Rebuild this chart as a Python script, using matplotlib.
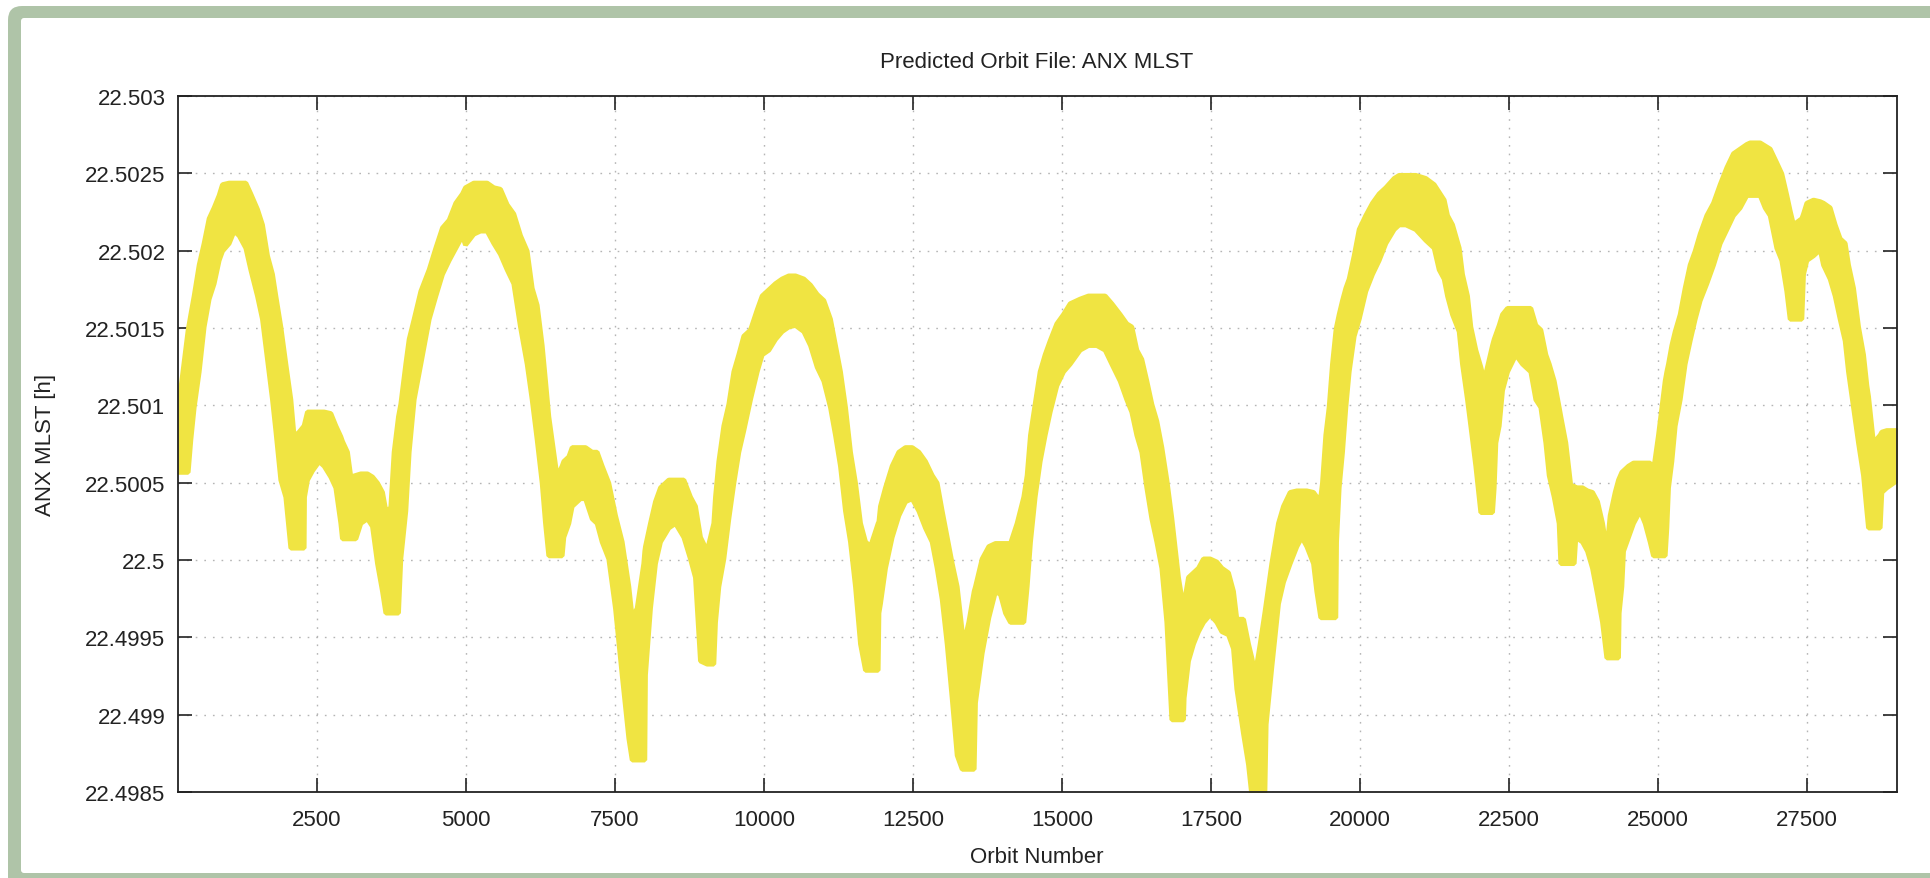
import matplotlib.pyplot as plt
from matplotlib.patches import FancyBboxPatch
from matplotlib.transforms import IdentityTransform

plt.rcParams['font.family'] = ['Liberation Sans', 'DejaVu Sans']

# orbit number and the upper / lower envelope of ANX MLST [h] at that orbit
orbit = [
    168, 330, 375, 431, 515, 598, 682, 766, 850, 906, 1018, 1102, 1186, 1298, 1381,
    1493, 1577, 1661, 1745, 1801, 1885, 1969, 2053, 2108, 2192, 2276, 2282, 2332,
    2416, 2528, 2612, 2724, 2808, 2892, 2919, 3003, 3059, 3143, 3227, 3339, 3423,
    3507, 3591, 3647, 3730, 3786, 3859, 3898, 3982, 4038, 4122, 4234, 4374, 4486,
    4597, 4709, 4821, 4933,
    4983, 5123, 5235, 5347, 5459, 5570, 5682, 5794, 5906, 6018, 6102, 6186, 6270,
    6326, 6381, 6521, 6605, 6633, 6717, 6773, 6913, 6997, 7109, 7192, 7276, 7388,
    7500, 7612, 7724, 7780, 7864, 7975, 7992, 8003, 8087, 8171, 8255, 8395, 8507,
    8647, 8758, 8842, 8926, 9038, 9150, 9178, 9234, 9318, 9402, 9486, 9569, 9653,
    9765, 9877, 9961, 10073, 10185, 10296, 10408, 10520, 10660, 10772, 10884, 10996,
    11107, 11191, 11275, 11359, 11443, 11527, 11611, 11695, 11779, 11907, 11920,
    11946, 12030, 12142, 12254, 12366, 12478, 12590, 12701, 12813, 12897, 12981,
    13065, 13149, 13233, 13317, 13345, 13428, 13518, 13540, 13652, 13764, 13876,
    13960, 14044, 14128, 14239, 14351, 14407, 14463,
    14541, 14625, 14709, 14793, 14905, 15017, 15129, 15296, 15436, 15576, 15716,
    15828, 15968, 16079, 16163, 16247, 16331, 16415, 16499, 16583, 16667, 16751,
    16835, 16946, 17030, 17041, 17114, 17198, 17282, 17366, 17478, 17590, 17674,
    17785, 17869, 17925, 18037, 18121, 18177, 18233, 18317, 18395, 18417, 18512,
    18624, 18708, 18820, 18932, 19016, 19100, 19212, 19267,
    19334, 19362, 19418, 19474, 19530, 19586, 19598, 19642, 19698, 19754, 19810,
    19894, 19978, 20089, 20201, 20313, 20425, 20565, 20649, 20761, 20928, 21096,
    21236, 21320, 21404, 21460, 21544, 21656, 21711, 21795, 21851, 21935, 22019,
    22075, 22215, 22243, 22271, 22327, 22383, 22467, 22606, 22718, 22858, 22942,
    23026, 23110, 23166, 23250, 23333, 23361, 23445, 23529, 23585, 23613, 23725,
    23809, 23893, 23977, 24061,
    24133, 24189, 24273, 24329, 24340, 24385, 24413, 24497, 24581, 24692, 24776,
    24860, 24916, 25000, 25112, 25140, 25168, 25224, 25280, 25364, 25447, 25531,
    25615, 25699, 25811, 25923, 26035, 26147, 26258, 26370, 26482, 26538, 26706,
    26790, 26874, 26985, 27069, 27153, 27209, 27265, 27405, 27433, 27489, 27601,
    27713, 27769, 27880, 27964, 28048, 28132, 28188, 28272, 28356, 28440, 28496,
    28524, 28607, 28719, 28747, 28831, 28943, 29010,
]

mlst_hi = [
    22.50099, 22.50149, 22.50159, 22.50171, 22.50191, 22.50205, 22.50221, 22.50228,
    22.50236, 22.50243, 22.50244, 22.50244, 22.50244, 22.50244, 22.50237, 22.50227,
    22.50217, 22.50197, 22.50185, 22.50171, 22.50151, 22.50127, 22.50104, 22.50080,
    22.50083, 22.50087, 22.50088, 22.50096, 22.50096, 22.50096, 22.50096, 22.50095,
    22.50087, 22.50080, 22.50077, 22.50070, 22.50054, 22.50055, 22.50056, 22.50056,
    22.50054, 22.50050, 22.50044, 22.50032, 22.50034, 22.50070, 22.50093, 22.50101,
    22.50127, 22.50143, 22.50156, 22.50174, 22.50188, 22.50202, 22.50215, 22.50220,
    22.50231, 22.50237,
    22.50241, 22.50244, 22.50244, 22.50244, 22.50241, 22.50240, 22.50230, 22.50224,
    22.50210, 22.50200, 22.50176, 22.50165, 22.50139, 22.50116, 22.50093, 22.50054,
    22.50061, 22.50064, 22.50067, 22.50073, 22.50073, 22.50073, 22.50070, 22.50070,
    22.50061, 22.50050, 22.50029, 22.50012, 22.49983, 22.49963, 22.49969, 22.49998,
    22.50006, 22.50009, 22.50024, 22.50038, 22.50047, 22.50052, 22.50052, 22.50052,
    22.50041, 22.50035, 22.50015, 22.50006, 22.50024, 22.50041, 22.50064, 22.50087,
    22.50101, 22.50122, 22.50133, 22.50145,
    22.50149, 22.50162, 22.50171, 22.50175, 22.50179, 22.50182, 22.50184, 22.50184,
    22.50182, 22.50178, 22.50172, 22.50168, 22.50156, 22.50139, 22.50122, 22.50099,
    22.50070, 22.50050, 22.50024, 22.50012, 22.50009, 22.50024, 22.50025, 22.50035,
    22.50047, 22.50061, 22.50070, 22.50073, 22.50073, 22.50070, 22.50064, 22.50055,
    22.50050, 22.50032, 22.50015, 22.49998, 22.49983, 22.49954, 22.49946, 22.49960,
    22.49980, 22.49983, 22.50001, 22.50009, 22.50011, 22.50011, 22.50011, 22.50011,
    22.50024, 22.50041, 22.50055, 22.50081,
    22.50101, 22.50122, 22.50133, 22.50142, 22.50153, 22.50159, 22.50166, 22.50169,
    22.50171, 22.50171, 22.50171, 22.50166, 22.50159, 22.50153, 22.50151, 22.50136,
    22.50130, 22.50116, 22.50101, 22.50090, 22.50073, 22.50052, 22.50027, 22.49989,
    22.49969, 22.49972, 22.49989, 22.49992, 22.49995, 22.50001, 22.50001, 22.49999,
    22.49995, 22.49992, 22.49980, 22.49962, 22.49962, 22.49946, 22.49937, 22.49926,
    22.49946, 22.49966, 22.49972, 22.49998, 22.50024, 22.50035, 22.50044, 22.50045,
    22.50045, 22.50045, 22.50044, 22.50041,
    22.50041, 22.50050, 22.50081, 22.50099, 22.50127, 22.50148, 22.50151, 22.50159,
    22.50168, 22.50176, 22.50182, 22.50197, 22.50214, 22.50223, 22.50231, 22.50237,
    22.50241, 22.50247, 22.50249, 22.50249, 22.50249, 22.50247, 22.50243, 22.50238,
    22.50233, 22.50223, 22.50217, 22.50202, 22.50185, 22.50171, 22.50151, 22.50136,
    22.50125, 22.50116, 22.50139, 22.50143, 22.50146, 22.50152, 22.50159, 22.50163,
    22.50163, 22.50163, 22.50163, 22.50152, 22.50149, 22.50133, 22.50127, 22.50116,
    22.50099, 22.50093, 22.50076, 22.50048, 22.50048, 22.50047, 22.50047, 22.50045,
    22.50044, 22.50038, 22.50024,
    22.50006, 22.50029, 22.50044, 22.50052, 22.50053, 22.50057, 22.50058, 22.50061,
    22.50063, 22.50063, 22.50063, 22.50063, 22.50058, 22.50081, 22.50116, 22.50122,
    22.50127, 22.50139, 22.50148, 22.50159, 22.50176, 22.50191, 22.50200, 22.50211,
    22.50223, 22.50231, 22.50243, 22.50254, 22.50263, 22.50266, 22.50269, 22.50270,
    22.50270, 22.50268, 22.50266, 22.50257, 22.50250, 22.50236, 22.50226, 22.50217,
    22.50221, 22.50224, 22.50231, 22.50233, 22.50232, 22.50231, 22.50228, 22.50217,
    22.50208, 22.50205, 22.50191, 22.50176, 22.50151, 22.50133, 22.50113, 22.50106,
    22.50076, 22.50081, 22.50083, 22.50084, 22.50084, 22.50084,
]

mlst_lo = [
    22.50057, 22.50057, 22.50078, 22.50099, 22.50122, 22.50151, 22.50169, 22.50179,
    22.50194, 22.50200, 22.50205, 22.50213, 22.50210, 22.50202, 22.50188, 22.50171,
    22.50156, 22.50130, 22.50104, 22.50084, 22.50052, 22.50041, 22.50008, 22.50008,
    22.50008, 22.50008, 22.50041, 22.50052, 22.50058, 22.50064, 22.50061, 22.50054,
    22.50047, 22.50024, 22.50014, 22.50014, 22.50014, 22.50014, 22.50024, 22.50027,
    22.50022, 22.49998, 22.49980, 22.49966, 22.49966, 22.49966, 22.49966, 22.50001,
    22.50032, 22.50070, 22.50104, 22.50127, 22.50156, 22.50171, 22.50185, 22.50194,
    22.50202, 22.50210,
    22.50204, 22.50211, 22.50213, 22.50213, 22.50205, 22.50198, 22.50188, 22.50179,
    22.50151, 22.50127, 22.50104, 22.50078, 22.50050, 22.50024, 22.50003, 22.50003,
    22.50003, 22.50015, 22.50024, 22.50035, 22.50040, 22.50040, 22.50027, 22.50024,
    22.50012, 22.50001, 22.49969, 22.49926, 22.49885, 22.49871, 22.49871, 22.49871,
    22.49871, 22.49926, 22.49969, 22.49998, 22.50012, 22.50021, 22.50024, 22.50015,
    22.50001, 22.49989, 22.49935, 22.49933, 22.49933, 22.49960, 22.49983, 22.50001,
    22.50027, 22.50050, 22.50070, 22.50084,
    22.50104, 22.50122, 22.50133, 22.50136, 22.50143, 22.50148, 22.50151, 22.50152,
    22.50148, 22.50139, 22.50125, 22.50116, 22.50099, 22.50081, 22.50061, 22.50032,
    22.50012, 22.49983, 22.49946, 22.49929, 22.49929, 22.49929, 22.49966, 22.49972,
    22.49995, 22.50015, 22.50029, 22.50038, 22.50040, 22.50032, 22.50021, 22.50012,
    22.49995, 22.49975, 22.49946, 22.49911, 22.49874, 22.49865, 22.49865, 22.49865,
    22.49865, 22.49908, 22.49940, 22.49963, 22.49980, 22.49978, 22.49966, 22.49960,
    22.49960, 22.49960, 22.49983, 22.50012,
    22.50041, 22.50064, 22.50081, 22.50096, 22.50113, 22.50122, 22.50127, 22.50136,
    22.50139, 22.50139, 22.50136, 22.50127, 22.50116, 22.50104, 22.50096, 22.50081,
    22.50070, 22.50047, 22.50027, 22.50012, 22.49995, 22.49960, 22.49897, 22.49897,
    22.49897, 22.49911, 22.49935, 22.49946, 22.49954, 22.49960, 22.49965, 22.49960,
    22.49954, 22.49952, 22.49943, 22.49917, 22.49888, 22.49868, 22.49848, 22.49848,
    22.49848, 22.49848, 22.49894, 22.49931, 22.49972, 22.49986, 22.49998, 22.50009,
    22.50015, 22.50009, 22.49998, 22.49980,
    22.49963, 22.49963, 22.49963, 22.49963, 22.49963, 22.49963, 22.50012, 22.50047,
    22.50070, 22.50099, 22.50122, 22.50145, 22.50156, 22.50174, 22.50185, 22.50194,
    22.50205, 22.50214, 22.50217, 22.50217, 22.50214, 22.50207, 22.50202, 22.50188,
    22.50182, 22.50171, 22.50159, 22.50148, 22.50127, 22.50104, 22.50087, 22.50061,
    22.50031, 22.50031, 22.50031, 22.50047, 22.50076, 22.50087, 22.50110, 22.50122,
    22.50133, 22.50127, 22.50122, 22.50104, 22.50099, 22.50076, 22.50055, 22.50041,
    22.50024, 22.49998, 22.49998, 22.49998, 22.49998, 22.50015, 22.50012, 22.50006,
    22.49995, 22.49978, 22.49960,
    22.49937, 22.49937, 22.49937, 22.49937, 22.49966, 22.49983, 22.50006, 22.50015,
    22.50024, 22.50032, 22.50024, 22.50012, 22.50003, 22.50003, 22.50003, 22.50021,
    22.50047, 22.50064, 22.50087, 22.50104, 22.50127, 22.50142, 22.50156, 22.50168,
    22.50179, 22.50191, 22.50205, 22.50214, 22.50223, 22.50228, 22.50236, 22.50236,
    22.50236, 22.50228, 22.50223, 22.50202, 22.50194, 22.50174, 22.50156, 22.50156,
    22.50156, 22.50185, 22.50194, 22.50197, 22.50201, 22.50191, 22.50182, 22.50171,
    22.50156, 22.50142, 22.50122, 22.50099, 22.50076, 22.50055, 22.50032, 22.50021,
    22.50021, 22.50021, 22.50044, 22.50047, 22.50050, 22.50052,
]

xticks = [2500, 5000, 7500, 10000, 12500, 15000, 17500, 20000, 22500, 25000, 27500]
yticks = [22.4985, 22.499, 22.4995, 22.5, 22.5005, 22.501, 22.5015, 22.502, 22.5025, 22.503]
ytick_labels = ['22.4985', '22.499', '22.4995', '22.5', '22.5005',
                '22.501', '22.5015', '22.502', '22.5025', '22.503']

fig = plt.figure(figsize=(19.30, 8.79), dpi=100)

# green rounded frame around the screenshot
pix = IdentityTransform()
fig.add_artist(FancyBboxPatch((8, -60), 2000, 932, boxstyle='round,pad=0,rounding_size=14',
                              transform=pix, facecolor='#afc4a8', edgecolor='none', zorder=-3))
fig.add_artist(FancyBboxPatch((21, 5), 2000, 855, boxstyle='round,pad=0,rounding_size=3',
                              transform=pix, facecolor='white', edgecolor='none', zorder=-2))

ax = fig.add_axes([178 / 1930, 86 / 879, 1719 / 1930, 696 / 879])

# band of MLST values, outlined so that steep flanks keep their width
ax.fill_between(orbit, mlst_lo, mlst_hi, color='#f0e442', edgecolor='#f0e442',
                linewidth=3.5, joinstyle='bevel')

ax.set_xlim(orbit[0], orbit[-1])
ax.set_ylim(22.4985, 22.503)
ax.set_xticks(xticks)
ax.set_xticklabels([str(t) for t in xticks])
ax.set_yticks(yticks)
ax.set_yticklabels(ytick_labels)

ax.set_axisbelow(True)
ax.grid(True, color='#b5b5b5', linestyle=(0, (1.2, 5)), linewidth=1.0)
ax.tick_params(direction='in', length=10, width=1.2, top=True, right=True,
               labelsize=16, colors='#222222')
ax.tick_params(axis='x', pad=12)
ax.tick_params(axis='y', pad=9)
for s in ax.spines.values():
    s.set_linewidth(1.3)
    s.set_color('#222222')
    s.set_zorder(5)

fig.text(1037 / 1930, 1 - 62 / 879, 'Predicted Orbit File: ANX MLST',
         ha='center', va='center', fontsize=16, color='#222222')
fig.text(45 / 1930, 1 - 445 / 879, 'ANX MLST [h]', rotation=90,
         ha='center', va='center', fontsize=16, color='#222222')
fig.text(1037 / 1930, 1 - 858 / 879, 'Orbit Number',
         ha='center', va='center', fontsize=16, color='#222222')

fig.savefig('out.png', dpi=100)
